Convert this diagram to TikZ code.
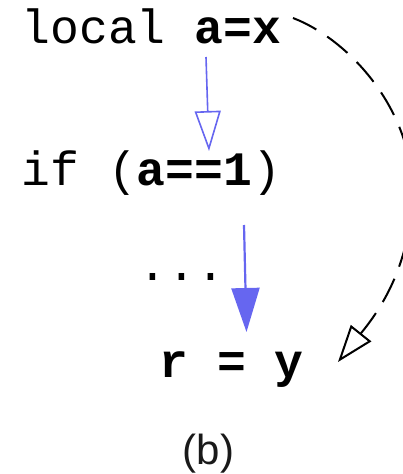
\documentclass[tikz,border=0pt]{standalone}
\usepackage{fontspec}
\newfontfamily\codefont{Liberation Mono}
\newfontfamily\capfont{Liberation Sans}
\usetikzlibrary{arrows.meta}
\definecolor{flowblue}{RGB}{102,102,240}
\tikzset{
  code/.style={inner sep=0pt, anchor=base west, font=\codefont\fontsize{48}{48}\selectfont},
  caption/.style={inner sep=0pt, anchor=base, font=\capfont\fontsize{42}{42}\selectfont, text=black!90},
  thinflow/.style={draw=flowblue, line width=1.6pt, -{Triangle[open, length=40pt, width=26pt]}},
  thickflow/.style={draw=flowblue, line width=2.2pt, -{Triangle[length=44pt, width=28pt]}, fill=flowblue},
  jump/.style={draw=black, line width=2pt, dash pattern=on 26pt off 13pt, -{Triangle[open, length=37pt, width=26pt, line width=2pt]}}
}
\begin{document}
\begin{tikzpicture}[x=1pt, y=-1pt]
\useasboundingbox (0,0) rectangle (403,474);
\node[code] (local) at (21.5,43) {local \textbf{a=x}};
\node[code] (ifline) at (21.5,185) {if (\textbf{a==1})};
\node[code] (dots) at (138.5,280) {...};
\node[code] (assign) at (159.5,377) {\textbf{r = y}};
\node[caption] (cap) at (208.5,464) {(b)};
\coordinate (s1) at (206,57);
\coordinate (e1) at (209,151);
\coordinate (s2) at (244,225);
\coordinate (e2) at (246.5,332);
\coordinate (s3) at (293,18);
\coordinate (m3) at (412,190);
\coordinate (e3) at (338,362);
\draw[thinflow] (s1) -- (e1);
\draw[thickflow] (s2) -- (e2);
\draw[jump] (s3) .. controls (350,40) and (412,110) .. (m3) .. controls (412,270) and (374,317) .. (e3);
\end{tikzpicture}
\end{document}
